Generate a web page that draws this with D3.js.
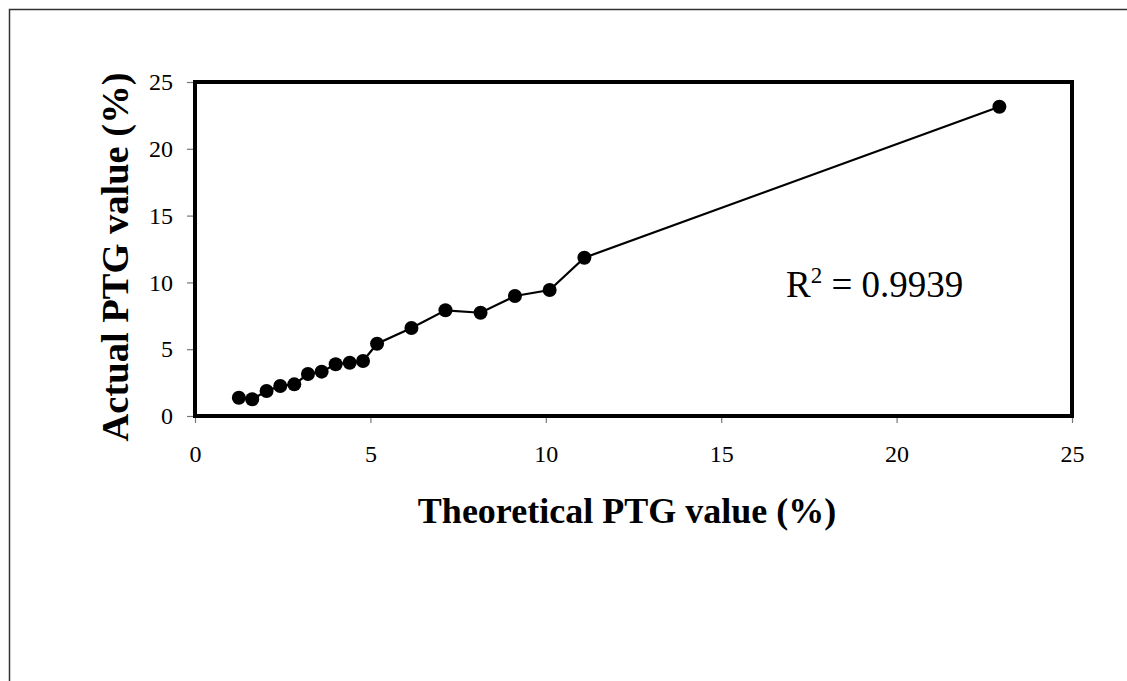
<!DOCTYPE html>
<html>
<head>
<meta charset="utf-8">
<script src="https://cdn.jsdelivr.net/npm/d3@7"></script>
<style>
  body { margin: 0; background: #fff; }
  #chart { width: 1127px; height: 681px; overflow: hidden; }
  text { font-family: "Liberation Serif", "Times New Roman", serif; fill: #000; }
</style>
</head>
<body>
<div id="chart"></div>
<script>
    // values
    var theoretical = [1.25, 1.63, 2.04, 2.43, 2.83, 3.22, 3.61, 4.01, 4.41, 4.79,
                       5.19, 6.17, 7.14, 8.14, 9.12, 10.11, 11.1, 22.93];
    var actual = [1.37, 1.25, 1.87, 2.25, 2.37, 3.14, 3.32, 3.87, 3.99, 4.12,
                  5.41, 6.59, 7.91, 7.73, 8.98, 9.43, 11.85, 23.15];
    var xTicks = [0, 5, 10, 15, 20, 25];
    var yTicks = [0, 5, 10, 15, 20, 25];
    var xTitle = "Theoretical PTG value (%)";
    var yTitle = "Actual PTG value (%)";
    var r2Text = "0.9939";

    var points = theoretical.map(function(d, i) {
        return { x: d, y: actual[i] };
    });

    var width = 1127;
    var height = 681;

    var svg = d3.select("#chart")
        .append("svg")
        .attr("width", width)
        .attr("height", height);

    // outer frame of the chart area (runs off the page)
    svg.append("rect")
        .attr("x", 9.5)
        .attr("y", 9.5)
        .attr("width", 1300)
        .attr("height", 900)
        .attr("fill", "none")
        .attr("stroke", "#333")
        .attr("stroke-width", 1.5);

    var plotLeft = 195, plotRight = 1072, plotTop = 82, plotBottom = 416;

    var x = d3.scaleLinear().domain([0, 25]).range([plotLeft, plotRight]);
    var y = d3.scaleLinear().domain([0, 25]).range([plotBottom, plotTop]);

    var xAxis = svg.append("g")
        .attr("transform", "translate(0," + plotBottom + ")")
        .call(d3.axisBottom(x).tickValues(xTicks).tickSize(7).tickPadding(22));

    var yAxis = svg.append("g")
        .attr("transform", "translate(" + plotLeft + ",0)")
        .call(d3.axisLeft(y).tickValues(yTicks).tickSize(8).tickPadding(14));

    [xAxis, yAxis].forEach(function(a) {
        a.select(".domain").remove();
        a.selectAll(".tick line").attr("stroke", "#777").attr("stroke-width", 1.2);
        a.selectAll(".tick text")
            .style("font-family", "'Liberation Serif', 'Times New Roman', serif")
            .style("font-size", "24px")
            .attr("fill", "#000");
    });

    // plot area box
    svg.append("rect")
        .attr("x", plotLeft)
        .attr("y", plotTop)
        .attr("width", plotRight - plotLeft)
        .attr("height", plotBottom - plotTop)
        .attr("fill", "none")
        .attr("stroke", "#000")
        .attr("stroke-width", 4);

    var line = d3.line()
        .x(function(d) { return x(d.x); })
        .y(function(d) { return y(d.y); });

    svg.append("path")
        .datum(points)
        .attr("d", line)
        .attr("fill", "none")
        .attr("stroke", "#000")
        .attr("stroke-width", 2.2);

    svg.selectAll("circle")
        .data(points)
        .enter()
        .append("circle")
            .attr("cx", function(d) { return x(d.x); })
            .attr("cy", function(d) { return y(d.y); })
            .attr("r", 7)
            .attr("fill", "#000");

    // R squared label
    var r2 = svg.append("text")
        .attr("x", 786)
        .attr("y", 297)
        .style("font-size", "37px");
    r2.append("tspan").text("R");
    r2.append("tspan")
        .attr("dy", -14)
        .style("font-size", "23px")
        .text("2");
    r2.append("tspan")
        .attr("dy", 14)
        .text(" = " + r2Text);

    // axis titles
    svg.append("text")
        .attr("x", 627)
        .attr("y", 523)
        .attr("text-anchor", "middle")
        .style("font-size", "36px")
        .style("font-weight", "bold")
        .text(xTitle);

    svg.append("text")
        .attr("transform", "translate(128,257) rotate(-90)")
        .attr("text-anchor", "middle")
        .style("font-size", "38.5px")
        .style("font-weight", "bold")
        .text(yTitle);
</script>
</body>
</html>
